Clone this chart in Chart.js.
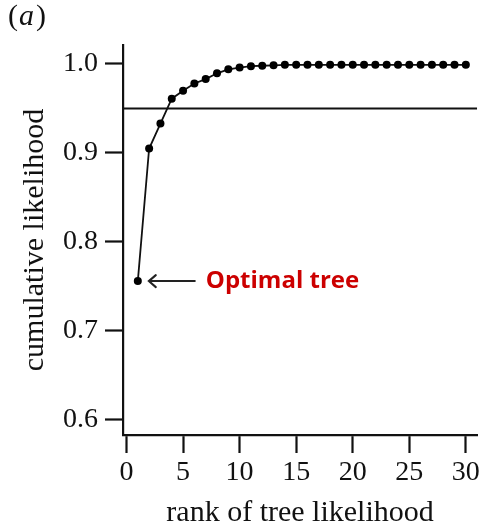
<!DOCTYPE html>
<html><head><meta charset="utf-8">
<script src="https://cdn.jsdelivr.net/npm/chart.js@4"></script>
<style>html,body{margin:0;padding:0;background:#fff}</style>
</head><body>
<canvas id="c" width="483" height="528"></canvas>
<script>
// ---- data ----
const ranks = [1,2,3,4,5,6,7,8,9,10,11,12,13,14,15,16,17,18,19,20,21,22,23,24,25,26,27,28,29,30];
const cumulative = [0.756,0.905,0.933,0.961,0.970,0.978,0.983,0.9895,0.994,0.996,0.9975,0.998,0.9985,0.999,0.999,0.999,0.999,0.999,0.999,0.999,0.999,0.999,0.999,0.999,0.999,0.999,0.999,0.999,0.999,0.999];
const thresholdValue = 0.95;
const xTicks = [0,5,10,15,20,25,30];
const yTicks = [0.6,0.7,0.8,0.9,1.0];
const xRange = [-0.31, 31.0];
const yRange = [0.5831, 1.0213];
const xTitle = 'rank of tree likelihood';
const yTitle = 'cumulative likelihood';
const annotationText = 'Optimal tree';
const panelLetter = 'a';

const SERIF = '"Liberation Serif", "Times New Roman", serif';
const INK = '#111';

const annotationPlugin = {
  id: 'annot',
  afterDatasetsDraw(chart) {
    const ctx = chart.ctx;
    const pt = chart.getDatasetMeta(0).data[0];
    const px = pt.x, py = pt.y;
    ctx.save();
    ctx.strokeStyle = '#222';
    ctx.lineWidth = 2;
    ctx.lineCap = 'round';
    const tipX = px + 11, endX = px + 57;
    ctx.beginPath();
    ctx.moveTo(tipX, py); ctx.lineTo(endX, py);
    ctx.moveTo(tipX + 7, py - 6); ctx.lineTo(tipX, py); ctx.lineTo(tipX + 7, py + 6);
    ctx.stroke();
    ctx.fillStyle = '#cc0000';
    ctx.font = 'bold 24px "Open Sans", sans-serif';
    ctx.textAlign = 'left';
    ctx.textBaseline = 'middle';
    ctx.fillText(annotationText, px + 68, py);
    ctx.restore();
  },
  afterDraw(chart) {
    const ctx = chart.ctx;
    ctx.save();
    ctx.fillStyle = INK;
    ctx.textBaseline = 'alphabetic';
    ctx.textAlign = 'left';
    let x = 8; const y = 25;
    ctx.font = '30px ' + SERIF;
    ctx.fillText('(', x, y); x += ctx.measureText('(').width + 1;
    ctx.font = 'italic 30px ' + SERIF;
    ctx.fillText(panelLetter, x, y); x += ctx.measureText(panelLetter).width + 2;
    ctx.font = '30px ' + SERIF;
    ctx.fillText(')', x, y);
    ctx.restore();
  }
};

const points = ranks.map((r, i) => ({x: r, y: cumulative[i]}));
const thresholdLine = xRange.map(x => ({x: x, y: thresholdValue}));

new Chart(document.getElementById('c'), {
  type: 'line',
  data: {
    datasets: [
      { data: points, borderColor: INK, borderWidth: 1.8, pointRadius: 4, pointBackgroundColor: '#000', pointBorderWidth: 0, tension: 0 },
      { data: thresholdLine, borderColor: INK, borderWidth: 2, pointRadius: 0 }
    ]
  },
  options: {
    responsive: false,
    animation: false,
    events: [],
    layout: { padding: { left: 8, top: 45, right: 5, bottom: 0 } },
    plugins: { legend: { display: false }, tooltip: { enabled: false } },
    scales: {
      x: {
        type: 'linear', min: xRange[0], max: xRange[1],
        afterBuildTicks: s => { s.ticks = xTicks.map(v => ({value: v})); },
        afterFit: s => { s.height = 93; },
        ticks: { autoSkip: false, maxRotation: 0, padding: 3, color: INK, font: { family: SERIF, size: 28 }, callback: v => String(v) },
        grid: { display: true, drawOnChartArea: false, drawTicks: true, tickLength: 18, tickWidth: 2.2, tickColor: INK },
        border: { display: true, width: 2.2, color: INK },
        title: { display: true, text: xTitle, color: INK, font: { family: SERIF, size: 30, lineHeight: 1.0 }, padding: 0 }
      },
      y: {
        type: 'linear', min: yRange[0], max: yRange[1],
        afterBuildTicks: s => { s.ticks = yTicks.map(v => ({value: v})); },
        afterFit: s => { s.width = 115; },
        ticks: { autoSkip: false, padding: 7, color: INK, font: { family: SERIF, size: 28 }, callback: v => Number(v).toFixed(1) },
        grid: { display: true, drawOnChartArea: false, drawTicks: true, tickLength: 18, tickWidth: 2.2, tickColor: INK },
        border: { display: true, width: 2.2, color: INK },
        title: { display: true, text: yTitle, color: INK, font: { family: SERIF, size: 30, lineHeight: 1.0 }, padding: { top: 12, bottom: 0 } }
      }
    }
  },
  plugins: [annotationPlugin]
});
</script>
</body></html>
